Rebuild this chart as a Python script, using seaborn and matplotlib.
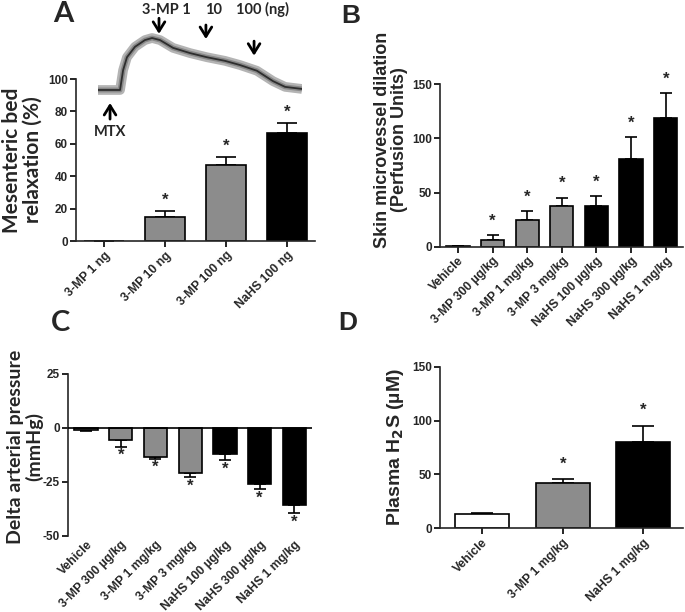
import numpy as np
import pandas as pd
import matplotlib
matplotlib.use("Agg")
import matplotlib.pyplot as plt
import seaborn as sns

sns.set_theme(style="ticks")
plt.rcParams['font.family'] = ['Liberation Sans', 'DejaVu Sans']
plt.rcParams['axes.unicode_minus'] = False

GRAY = '#8c8c8c'
BLACK = '#000000'
WHITE = '#ffffff'

# ---------------- data ----------------
# Panel A
a_cats = ['3-MP 1 ng', '3-MP 10 ng', '3-MP 100 ng', 'NaHS 100 ng']
a_mean = [0.0, 14.9, 46.9, 66.6]
a_sem = [0.0, 3.5, 4.8, 6.2]
a_star = [False, True, True, True]
a_colors = [GRAY, GRAY, GRAY, BLACK]
# trace (relative time, relative tension)
trace_t = [0, 10.8, 12.3, 14.2, 18.1, 23, 26.5, 30.4, 36.8, 45.1, 53.4, 62.3, 69.6, 77.9, 85.8, 91.7, 100]
trace_v = [0, 0, 38, 63, 83, 96, 100, 96, 81, 71, 63, 56, 48, 37, 17, 6, 2]
arrow_t = {'MTX': 5.9, '3-MP 1': 29.9, '10': 52.9, '100 (ng)': 76.5}
label_t = {'3-MP 1': 33.6, '10': 56.6, '100 (ng)': 80.4}

# Panel B
b_cats = ['Vehicle', '3-MP 300 µg/kg', '3-MP 1 mg/kg', '3-MP 3 mg/kg',
          'NaHS 100 µg/kg', 'NaHS 300 µg/kg', 'NaHS 1 mg/kg']
b_mean = [0.5, 6.5, 24.6, 37.9, 37.9, 80.7, 119.0]
b_sem = [0.3, 4.0, 8.4, 7.4, 9.0, 20.3, 23.0]
b_star = [False, True, True, True, True, True, True]
b_colors = [GRAY, GRAY, GRAY, GRAY, BLACK, BLACK, BLACK]

# Panel C
c_cats = ['Vehicle', '3-MP 300 µg/kg', '3-MP 1 mg/kg', '3-MP 3 mg/kg',
          'NaHS 100 µg/kg', 'NaHS 300 µg/kg', 'NaHS 1 mg/kg']
c_mean = [-1.2, -5.7, -13.4, -20.8, -11.9, -26.2, -35.8]
c_sem = [0.4, 3.1, 0.8, 2.2, 3.1, 2.3, 3.8]
c_star = [False, True, True, True, True, True, True]
c_colors = [GRAY, GRAY, GRAY, GRAY, BLACK, BLACK, BLACK]

# Panel D
d_cats = ['Vehicle', '3-MP 1 mg/kg', 'NaHS 1 mg/kg']
d_mean = [13.3, 41.7, 80.3]
d_sem = [0.9, 4.0, 14.9]
d_star = [False, True, True]
d_colors = [WHITE, GRAY, BLACK]

W, H = 685, 612
fig = plt.figure(figsize=(W / 100, H / 100), dpi=100)


def px_axes(x0, x1, ytop, ybot):
    return fig.add_axes([x0 / W, (H - ybot) / H, (x1 - x0) / W, (ybot - ytop) / H])


def bars(ax, cats, mean, sem, colors, stars, capsize, star_off, width=0.67,
         xfs=8.8):
    df = pd.DataFrame({'cat': cats, 'val': mean})
    sns.barplot(data=df, x='cat', y='val', hue='cat', palette=colors, order=cats,
                hue_order=cats, legend=False, errorbar=None, width=width,
                edgecolor='black', linewidth=1.2, ax=ax, zorder=2)
    x = np.arange(len(cats))
    m = np.array(mean)
    s = np.array(sem)
    lower = np.where(m < 0, s, 0)
    upper = np.where(m >= 0, s, 0)
    ax.errorbar(x, m, yerr=[lower, upper], fmt='none', ecolor='black',
                elinewidth=1.2, capsize=capsize, capthick=1.2, zorder=1)
    for i, st in enumerate(stars):
        if st:
            if m[i] >= 0:
                ax.text(i, m[i] + s[i] + star_off, '*', ha='center', va='center',
                        fontsize=12, fontweight='bold')
            else:
                ax.text(i, m[i] - s[i] - star_off, '*', ha='center', va='center',
                        fontsize=12, fontweight='bold')
    ax.set_xlabel('')
    ax.set_ylabel('')
    sns.despine(ax=ax)
    for sp in ['left', 'bottom']:
        ax.spines[sp].set_linewidth(1.2)
    ax.tick_params(axis='both', width=1.2, length=4, color='black', pad=2)
    ax.set_xticks(x)
    ax.set_xticklabels(cats, rotation=45, ha='right', rotation_mode='anchor',
                       fontsize=xfs, fontweight='bold')


def yticks(ax, vals):
    ax.set_yticks(vals)
    ax.set_yticklabels([str(v) for v in vals], fontsize=8.5, fontweight='bold')


# ---------------- Panel A ----------------
axA = px_axes(76, 315, 79, 241)
bars(axA, a_cats, a_mean, a_sem, a_colors, a_star, capsize=7, star_off=6.5)
axA.set_ylim(0, 100)
yticks(axA, [0, 20, 40, 60, 80, 100])
axA.set_xlim(-0.46, 3.46)
axA.set_ylabel('Mesenteric bed\nrelaxation (%)', fontsize=15, fontweight='bold',
               family=['Lato', 'DejaVu Sans'], linespacing=1.05)
axA.yaxis.set_label_coords(-0.14, 0.5)
fig.text(63 / W, 1 - 14 / H, 'A', fontsize=21, fontweight='bold',
         family=['Lato', 'DejaVu Sans'], ha='center', va='center')

# trace inset
axT = px_axes(98, 302, 0, 140)
axT.patch.set_alpha(0)
axT.set_axis_off()
axT.set_xlim(0, 100)
axT.set_ylim(-96.2, 173.1)
axT.plot(trace_t, trace_v, color='#b4b4b4', lw=7, solid_capstyle='butt', zorder=1)
axT.plot(trace_t, trace_v, color='#888888', lw=3.5, solid_capstyle='butt', zorder=1)
axT.plot(trace_t, trace_v, color='#2e2e2e', lw=1.3, zorder=2)
arw = dict(arrowstyle='->,head_length=0.45,head_width=0.28', lw=2.0, color='black',
           mutation_scale=15, shrinkA=0, shrinkB=0)
axT.annotate('', xy=(arrow_t['MTX'], -25), xytext=(arrow_t['MTX'], -56), arrowprops=arw)
axT.text(arrow_t['MTX'], -81, 'MTX', ha='center', va='center', fontsize=10.5,
         fontweight='bold', family=['Lato', 'DejaVu Sans'])
axT.annotate('', xy=(arrow_t['3-MP 1'], 108), xytext=(arrow_t['3-MP 1'], 138), arrowprops=arw)
axT.annotate('', xy=(arrow_t['10'], 98), xytext=(arrow_t['10'], 125), arrowprops=arw)
axT.annotate('', xy=(arrow_t['100 (ng)'], 66), xytext=(arrow_t['100 (ng)'], 94), arrowprops=arw)
for k, t in label_t.items():
    axT.text(t, 154, k, ha='center', va='center', fontsize=10.5,
             fontweight='bold', family=['Lato', 'DejaVu Sans'])

# ---------------- Panel B ----------------
axB = px_axes(440, 683, 84.3, 246.7)
bars(axB, b_cats, b_mean, b_sem, b_colors, b_star, capsize=4.5, star_off=13)
axB.set_ylim(0, 150)
yticks(axB, [0, 50, 100, 150])
axB.set_xlim(-0.52, 6.5)
axB.set_ylabel('Skin microvessel dilation\n(Perfusion Units)', fontsize=13,
               fontweight='bold', linespacing=1.05)
axB.yaxis.set_label_coords(-0.13, 0.66)
fig.text(351 / W, 1 - 16 / H, 'B', fontsize=19, fontweight='bold',
         ha='center', va='center')

# ---------------- Panel C ----------------
axC = px_axes(68, 311.7, 374, 535.7)
bars(axC, c_cats, c_mean, c_sem, c_colors, c_star, capsize=4.5, star_off=4)
axC.set_ylim(-50, 25)
yticks(axC, [-50, -25, 0, 25])
axC.set_xlim(-0.52, 6.5)
axC.spines['bottom'].set_visible(False)
axC.axhline(0, color='black', lw=1.2, zorder=3)
axC.tick_params(axis='x', length=0)
axC.set_ylabel('Delta arterial pressure\n(mmHg)', fontsize=14,
               fontweight='bold', family=['Lato', 'DejaVu Sans'], linespacing=1.05)
axC.yaxis.set_label_coords(-0.103, 0.55)
fig.text(60 / W, 1 - 323 / H, 'C', fontsize=21, fontweight='bold',
         family=['Lato', 'DejaVu Sans'], ha='center', va='center')

# ---------------- Panel D ----------------
axD = px_axes(440, 683, 366.7, 528.3)
bars(axD, d_cats, d_mean, d_sem, d_colors, d_star, capsize=8, star_off=14)
axD.set_ylim(0, 150)
yticks(axD, [0, 50, 100, 150])
axD.set_xlim(-0.52, 2.49)
axD.set_ylabel('Plasma H$_\\mathbf{2}$S (µM)', fontsize=14, fontweight='bold')
axD.yaxis.set_label_coords(-0.14, 0.5)
fig.text(348 / W, 1 - 323 / H, 'D', fontsize=19, fontweight='bold',
         ha='center', va='center')

fig.savefig('out.png', dpi=100, facecolor='white')
